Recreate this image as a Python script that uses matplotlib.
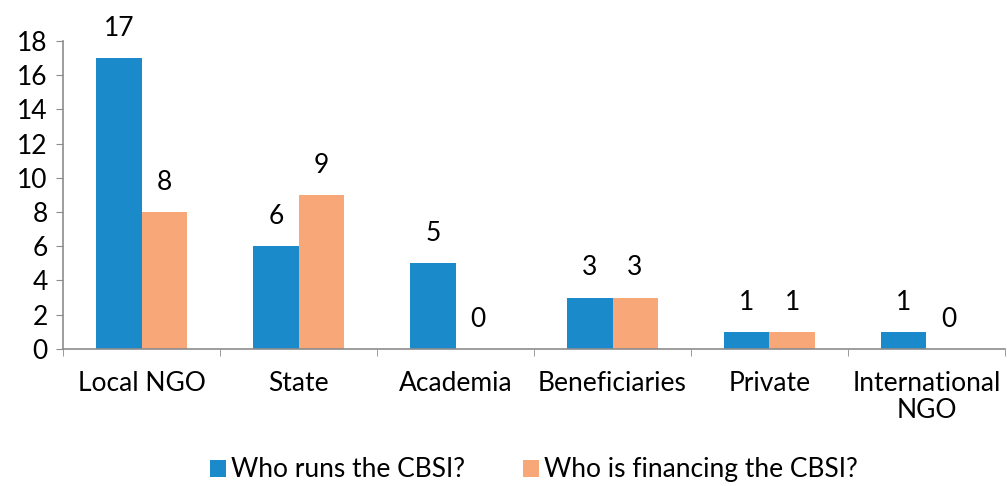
import matplotlib.pyplot as plt
import numpy as np

categories = ['Local NGO', 'State', 'Academia', 'Beneficiaries', 'Private', 'International\nNGO']
runs = [17, 6, 5, 3, 1, 1]
financing = [8, 9, 0, 3, 1, 0]
series_names = ['Who runs the CBSI?', 'Who is financing the CBSI?']

blue = '#1a8acb'
orange = '#f8a878'
spine_color = '#8c8c8c'
fs = 19

plt.rcParams['font.family'] = ['Lato', 'DejaVu Sans']

fig = plt.figure(figsize=(10.07, 4.86), dpi=100)
ax = fig.add_axes([0.0626, 0.282, 0.9354, 0.634])

x = np.arange(len(categories))
w = 0.287
b1 = ax.bar(x - w / 2, runs, w, color=blue, label=series_names[0])
b2 = ax.bar(x + w / 2, financing, w, color=orange, label=series_names[1])

for bars, vals in ((b1, runs), (b2, financing)):
    for rect, v in zip(bars, vals):
        ax.text(rect.get_x() + rect.get_width() / 2, v + 1.0, str(v),
                ha='center', va='bottom', fontsize=fs)

ax.set_xlim(-0.5, len(categories) - 0.5)
ax.set_ylim(0, 18)
ax.set_yticks(range(0, 19, 2))
ax.tick_params(axis='y', labelsize=fs, length=5, color=spine_color, pad=6)

ax.set_xticks(x)
ax.set_xticklabels(categories, fontsize=fs, linespacing=1.1)
ax.tick_params(axis='x', which='major', length=0, pad=16)
ax.set_xticks(np.arange(-0.5, len(categories), 1), minor=True)
ax.tick_params(axis='x', which='minor', length=5, color=spine_color)

for side in ('top', 'right'):
    ax.spines[side].set_visible(False)
for side in ('left', 'bottom'):
    ax.spines[side].set_color(spine_color)
    ax.spines[side].set_linewidth(1.2)

# legend sits just above the bottom edge, centred under the axes
fig.legend(handles=[b1, b2], loc='center', bbox_to_anchor=(0.53, 0.033), ncol=2,
           frameon=False, fontsize=fs, handlelength=0.6, handleheight=0.6,
           handletextpad=0.2, columnspacing=2.2, borderpad=0)

fig.savefig('out.png', dpi=100)
